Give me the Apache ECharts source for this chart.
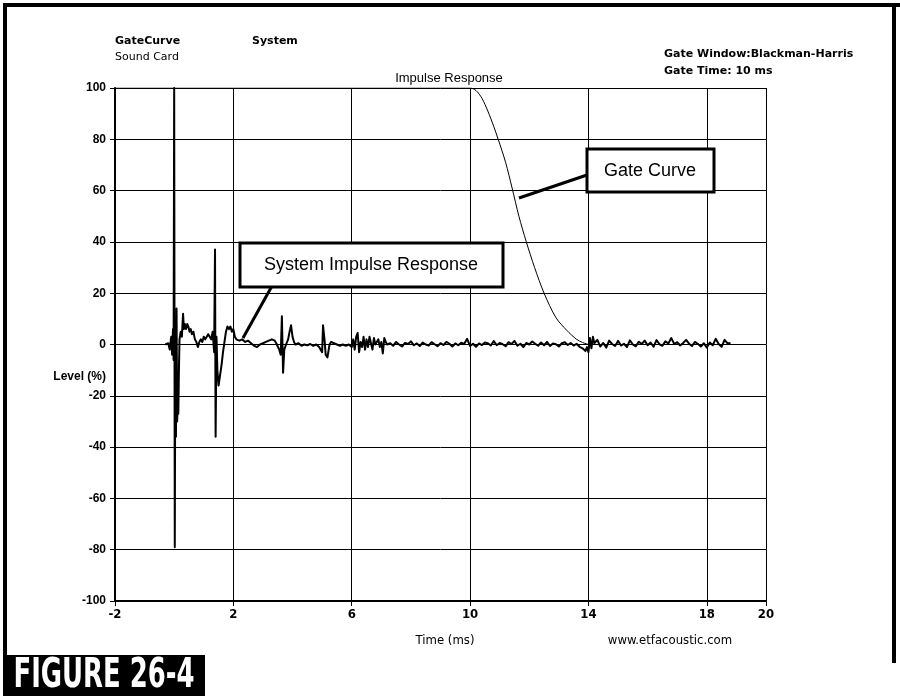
<!DOCTYPE html>
<html>
<head>
<meta charset="utf-8">
<script src="https://cdn.jsdelivr.net/npm/echarts@6/dist/echarts.min.js"></script>
<style>
html,body{margin:0;padding:0;background:#fff;}
#chart{width:900px;height:696px;}
</style>
</head>
<body>
<div id="chart"></div>
<script>
// ---- data ----
const xTicks = [-2, 2, 6, 10, 14, 18, 20];
const yTicks = [-100, -80, -60, -40, -20, 0, 20, 40, 60, 80, 100];

const gateTimes  = [-2, 10, 10.2, 10.4, 10.6, 10.8, 10.95, 11.2, 11.42, 11.65, 11.9, 12.18, 12.5, 12.9, 13.27, 13.6, 13.8, 14.0];
const gateLevels = [100, 100, 99, 96, 91, 85, 80, 71, 61, 50, 40, 30, 20, 10.5, 5.5, 2, 0.8, 0];

const impulseTimes = [
  -0.3,-0.2,-0.15,-0.1,-0.07,-0.04,-0.02,0.0,0.02,0.04,0.06,0.08,0.10,0.12,0.14,0.16,0.18,0.22,0.26,0.30,
  0.33,0.36,0.40,0.44,0.48,0.52,0.56,0.60,0.65,0.70,0.75,0.80,0.85,0.90,0.95,1.00,1.05,1.10,1.15,1.20,
  1.25,1.30,1.35,1.38,1.40,1.43,1.46,1.50,1.55,1.60,1.65,1.70,1.75,1.80,1.85,1.90,1.95,2.00,2.05,2.10,
  2.20,2.30,2.40,2.50,2.60,2.70,2.80,2.90,3.00,3.10,3.20,3.30,3.35,3.40,3.45,3.50,3.55,3.60,3.64,3.68,
  3.72,3.78,3.85,3.90,3.95,4.00,4.05,4.10,4.20,4.30,4.40,4.50,4.60,4.70,4.80,4.90,4.95,5.00,5.03,5.08,
  5.12,5.18,5.25,5.30,5.40,5.50,5.60,5.70,5.80,5.90,6.00,6.05,6.10,6.15,6.20,6.25,6.30,6.35,6.40,6.45,
  6.50,6.55,6.60,6.70,6.75,6.80,6.90,6.95,7.00,7.05,7.10,7.15,7.20,7.30,7.40,7.50,7.60,7.70,7.80,7.90,
  8.0,8.1,8.2,8.3,8.4,8.5,8.6,8.7,8.8,8.9,9.0,9.1,9.2,9.3,9.4,9.5,9.6,9.7,9.8,9.9,
  10.0,10.1,10.2,10.3,10.4,10.5,10.6,10.7,10.8,10.9,11.0,11.1,11.2,11.3,11.4,11.5,11.6,11.7,11.8,11.9,
  12.0,12.1,12.2,12.3,12.4,12.5,12.6,12.7,12.8,12.9,13.0,13.1,13.2,13.3,13.4,13.5,13.6,13.7,13.8,13.9,
  13.95,14.0,14.05,14.1,14.15,14.2,14.3,14.4,14.5,14.6,14.7,14.8,14.9,15.0,15.1,15.2,15.3,15.4,15.5,15.6,
  15.7,15.8,15.9,16.0,16.1,16.2,16.3,16.4,16.5,16.6,16.7,16.8,16.9,17.0,17.1,17.2,17.3,17.4,17.5,17.6,
  17.7,17.8,17.9,18.0,18.1,18.2,18.3,18.4,18.5,18.6,18.7,18.8
];
const impulseLevels = [
  0,0.5,-2,3,-4,6,-6,100,-79,8,-36,14,-30,-22,-27,-10,2,5,3,12,
  6,8,6,8,7,5,6,4,5,2,1,-1,1,2,1,3,2,3,4,3,
  2,5,-3,37,-36,3,-10,-16,-12,-8,-3,1,5,7,6,7,5,6,3,2,
  1.5,2,1,1.5,0.5,-0.5,-1,0,0.5,1,1.5,2,2.7,1.5,0.5,0,-2,-4,11,-11,
  -2,0,2,5,7.5,3,1,0,0.5,-0.5,0,-0.3,0.2,-0.5,0,-1,-2,-3,7.5,2,
  -4,-5,0,1,0.5,0,-0.5,0,-0.5,0,-1,2,-2,3,4.5,-3,1,-1,3,-2,
  2,-1,3,-2,2.5,0,2,-1,1,-3.5,2.5,1,0,0.5,-0.5,1,0,-0.8,0.6,0.2,
  1.2,-0.3,0.4,-0.6,0.8,0,-0.4,0.9,0.1,-0.7,0.5,-0.2,1,0.3,-0.8,0.4,-0.3,0.7,0.2,2.2,
  -0.6,0.3,-0.9,0.4,-0.2,0.8,0.5,-0.4,1.3,-0.3,0.6,0.1,-0.7,0.9,0.2,1.4,-0.5,0.3,-1,0.6,
  0,1.2,0.3,-0.5,0.8,-0.3,1,-0.6,0.4,0.1,-0.8,0.5,0.9,-0.2,0.6,-0.4,0.3,-0.9,-1.5,-2.5,
  -1,-3,2.5,-1.5,3,0.5,1.8,-0.8,0.6,-1.2,1.5,0.2,-0.6,1.4,-0.4,0.3,-1,1.6,0,-0.7,
  1.1,0.2,1.5,-0.3,0.8,-0.9,1.7,0.1,-0.5,1.2,0.4,2.5,0.2,0.9,-0.4,0.6,1.8,0.3,-0.6,1,
  0.2,-0.8,0.5,-1.2,0.8,-0.3,2.2,0.2,-0.9,1.8,0.4,0.6
];

const chartTitle = 'Impulse Response';
const xAxisTitle = 'Time (ms)';
const yAxisTitle = 'Level (%)';

// ---- build ----
const gateData = gateTimes.map((t, i) => [t, gateLevels[i]]);
const impulseData = impulseTimes.map((t, i) => [t, impulseLevels[i]]);

const chart = echarts.init(document.getElementById('chart'), null, {renderer: 'canvas'});

const labelFont = 'Liberation Sans, Arial, sans-serif';
const headFont = 'DejaVu Sans, Verdana, sans-serif';
const narrowFont = '"Liberation Sans Narrow", "DejaVu Sans Condensed", sans-serif';

const option = {
  backgroundColor: '#ffffff',
  animation: false,
  grid: {left: 115, right: 134, top: 88, bottom: 95, containLabel: false},
  xAxis: {
    type: 'value', min: xTicks[0], max: xTicks[xTicks.length - 1], interval: 4,
    axisLine: {show: true, onZero: false, lineStyle: {color: '#000', width: 2}},
    axisTick: {show: true, length: 5, lineStyle: {color: '#000', width: 1}},
    axisLabel: {color: '#000', fontFamily: narrowFont, fontWeight: 'bold', fontSize: 13, margin: 7},
    splitLine: {show: true, lineStyle: {color: '#000', width: 1}}
  },
  yAxis: {
    type: 'value', min: yTicks[0], max: yTicks[yTicks.length - 1], interval: 20,
    axisLine: {show: true, onZero: false, lineStyle: {color: '#000', width: 2}},
    axisTick: {show: true, length: 5, lineStyle: {color: '#000', width: 1}},
    axisLabel: {color: '#000', fontFamily: labelFont, fontWeight: 'bold', fontSize: 12, margin: 9},
    splitLine: {show: true, lineStyle: {color: '#000', width: 1}}
  },
  series: [
    {
      name: 'GateCurve', type: 'line', data: gateData, showSymbol: false,
      smooth: 0.3,
      lineStyle: {color: '#000', width: 1}, z: 3
    },
    {
      name: 'System', type: 'line', data: impulseData, showSymbol: false,
      lineStyle: {color: '#000', width: 2, join: 'round'}, z: 4
    }
  ],
  graphic: [
    // outer frame
    {type: 'rect', shape: {x: 3, y: 3, width: 900, height: 4}, style: {fill: '#000'}},
    {type: 'rect', shape: {x: 3, y: 3, width: 4, height: 693}, style: {fill: '#000'}},
    {type: 'rect', shape: {x: 892, y: 3, width: 4, height: 660}, style: {fill: '#000'}},
    // headers
    {type: 'text', left: 115, top: 36, style: {text: 'GateCurve', font: 'bold 11px ' + headFont, fill: '#000'}},
    {type: 'text', left: 115, top: 52, style: {text: 'Sound Card', font: '11px ' + headFont, fill: '#000'}},
    {type: 'text', left: 252, top: 36, style: {text: 'System', font: 'bold 11px ' + headFont, fill: '#000'}},
    {type: 'text', left: 664, top: 49, style: {text: 'Gate Window:Blackman-Harris', font: 'bold 11px ' + headFont, fill: '#000'}},
    {type: 'text', left: 664, top: 66, style: {text: 'Gate Time: 10 ms', font: 'bold 11px ' + headFont, fill: '#000'}},
    {type: 'text', x: 449, y: 78, style: {text: chartTitle, font: '13px ' + labelFont, fill: '#000', align: 'center', verticalAlign: 'middle'}},
    // axis titles
    {type: 'text', x: 106, y: 377, style: {text: yAxisTitle, font: 'bold 12px ' + labelFont, fill: '#000', align: 'right', verticalAlign: 'middle'}},
    {type: 'text', x: 445, y: 641, style: {text: xAxisTitle, font: '13px ' + narrowFont, fill: '#000', align: 'center', verticalAlign: 'middle'}},
    {type: 'text', x: 670, y: 641, style: {text: 'www.etfacoustic.com', font: '13px ' + narrowFont, fill: '#000', align: 'center', verticalAlign: 'middle'}},
    // annotation: Gate Curve
    {type: 'line', shape: {x1: 587, y1: 175, x2: 519, y2: 198}, style: {stroke: '#000', lineWidth: 3}, z: 10},
    {type: 'rect', shape: {x: 587, y: 149, width: 127, height: 43}, style: {fill: '#fff', stroke: '#000', lineWidth: 3}, z: 10},
    {type: 'text', x: 650, y: 171, style: {text: 'Gate Curve', font: '18px ' + labelFont, fill: '#000', align: 'center', verticalAlign: 'middle'}, z: 11},
    // annotation: System Impulse Response
    {type: 'line', shape: {x1: 272, y1: 286, x2: 243, y2: 338}, style: {stroke: '#000', lineWidth: 3}, z: 10},
    {type: 'rect', shape: {x: 240, y: 243, width: 263, height: 44}, style: {fill: '#fff', stroke: '#000', lineWidth: 3}, z: 10},
    {type: 'text', x: 371, y: 265, style: {text: 'System Impulse Response', font: '18px ' + labelFont, fill: '#000', align: 'center', verticalAlign: 'middle'}, z: 11},
    // figure label
    {type: 'rect', shape: {x: 3, y: 655, width: 202, height: 41}, style: {fill: '#000'}},
    {type: 'text', x: 104, y: 677, scaleX: 0.72,
      style: {text: 'FIGURE 26-4', font: 'bold 40px "DejaVu Sans Condensed", sans-serif', fill: '#fff', align: 'center', verticalAlign: 'middle'}}
  ]
};
chart.setOption(option);
</script>
</body>
</html>
